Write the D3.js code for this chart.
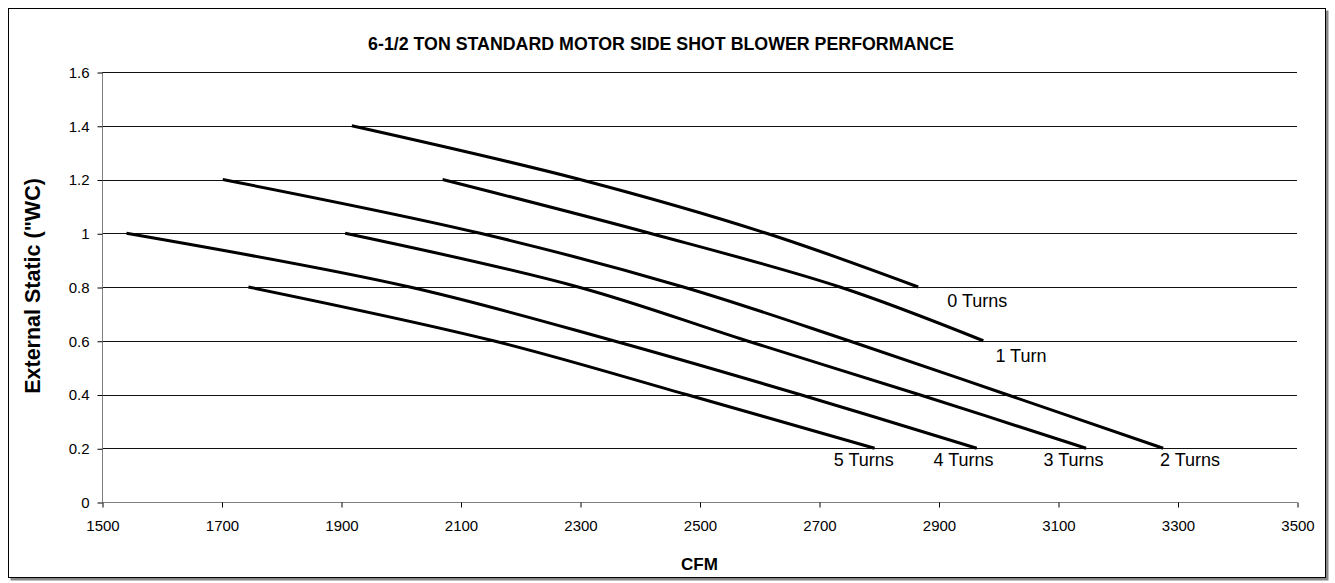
<!DOCTYPE html>
<html>
<head>
<meta charset="utf-8">
<script src="https://cdn.jsdelivr.net/npm/d3@7"></script>
<style>
  html, body { margin: 0; padding: 0; background: #fff; }
  svg { display: block; font-family: "Liberation Sans", Arial, sans-serif; }
</style>
</head>
<body>
<svg id="chart" width="1335" height="583"></svg>
<script>
// Fan curves: CFM delivered at each external static pressure, per pulley setting
const seriesNames = ["0 Turns", "1 Turn", "2 Turns", "3 Turns", "4 Turns", "5 Turns"];
const turns0 = [[1918, 1.4], [2300, 1.2], [2612, 1.0], [2866, 0.8]];
const turns1 = [[2070, 1.2], [2417, 1.0], [2735, 0.8], [2975, 0.6]];
const turns2 = [[1702, 1.2], [2133, 1.0], [2473, 0.8], [2750, 0.6], [3014, 0.4], [3276, 0.2]];
const turns3 = [[1907, 1.0], [2297, 0.8], [2579, 0.6], [2867, 0.4], [3147, 0.2]];
const turns4 = [[1541, 1.0], [2015, 0.8], [2356, 0.6], [2668, 0.4], [2964, 0.2]];
const turns5 = [[1745, 0.8], [2155, 0.6], [2478, 0.4], [2793, 0.2]];
// Where each curve's name is written, in chart units (CFM, "WC)
const labelSpots = [[2965, 0.747], [3038, 0.542], [3321, 0.155], [3126, 0.155], [2942, 0.155], [2775, 0.155]];

const xTicks = [1500, 1700, 1900, 2100, 2300, 2500, 2700, 2900, 3100, 3300, 3500];
const yTicks = [0, 0.2, 0.4, 0.6, 0.8, 1, 1.2, 1.4, 1.6];

const titleText = "6-1/2 TON STANDARD MOTOR SIDE SHOT BLOWER PERFORMANCE";
const xTitle = "CFM";
const yTitle = "External Static (\"WC)";

const series = [turns0, turns1, turns2, turns3, turns4, turns5];

const svg = d3.select("#chart");
const plot = { left: 102, right: 1297, top: 72, bottom: 502 };

// chart frame with a soft shadow on the right and bottom
svg.append("rect").attr("x", 10.5).attr("y", 10.5).attr("width", 1318).attr("height", 570)
  .attr("fill", "#888");
svg.append("rect").attr("x", 8.5).attr("y", 8.5).attr("width", 1317).attr("height", 569)
  .attr("fill", "#fff").attr("stroke", "#000").attr("stroke-width", 1);

const x = d3.scaleLinear().domain([1500, 3500]).range([plot.left, plot.right]);
const y = d3.scaleLinear().domain([0, 1.6]).range([plot.bottom, plot.top]);

// horizontal gridlines
svg.append("g")
  .selectAll("line")
  .data(yTicks.filter(d => d > 0))
  .join("line")
  .attr("x1", plot.left).attr("x2", plot.right)
  .attr("y1", d => Math.round(y(d)) + 0.5).attr("y2", d => Math.round(y(d)) + 0.5)
  .attr("stroke", "#111").attr("stroke-width", 1);

// axes
const yAxis = d3.axisLeft(y).tickValues(yTicks).tickSize(5).tickPadding(8)
  .tickFormat(d => d3.format("")(Math.round(d * 10) / 10));
const xAxis = d3.axisBottom(x).tickValues(xTicks).tickSize(5).tickPadding(13).tickFormat(d3.format("d"));

const gy = svg.append("g").attr("transform", `translate(${plot.left + 0.5},0.5)`).call(yAxis);
const gx = svg.append("g").attr("transform", `translate(0.5,${plot.bottom + 0.5})`).call(xAxis);
[gx, gy].forEach(g => {
  g.select(".domain").attr("stroke", "#808080").attr("stroke-width", 1);
  g.selectAll(".tick line").attr("stroke", "#000");
  g.selectAll(".tick text").attr("fill", "#000")
    .style("font-family", "\"Liberation Sans\", Arial, sans-serif").style("font-size", "15px");
});
gy.select(".domain").attr("d", `M0,${plot.top}V${plot.bottom}`);
gx.select(".domain").attr("d", `M${plot.left},0H${plot.right}`);

// fan curves
const line = d3.line()
  .x(d => x(d[0]))
  .y(d => y(d[1]))
  .curve(d3.curveCatmullRom.alpha(0.5));

svg.append("g")
  .selectAll("path")
  .data(series)
  .join("path")
  .attr("d", line)
  .attr("fill", "none")
  .attr("stroke", "#000")
  .attr("stroke-width", 3)
  .attr("stroke-linecap", "butt");

// curve names
svg.append("g")
  .selectAll("text")
  .data(seriesNames)
  .join("text")
  .attr("x", (d, i) => x(labelSpots[i][0]))
  .attr("y", (d, i) => y(labelSpots[i][1]))
  .attr("text-anchor", "middle")
  .attr("dominant-baseline", "central")
  .style("font-size", "18px")
  .text(d => d);

// titles
svg.append("text")
  .attr("x", 661).attr("y", 50)
  .attr("text-anchor", "middle")
  .style("font-size", "17.8px").style("font-weight", "bold")
  .text(titleText);

svg.append("text")
  .attr("x", (plot.left + plot.right) / 2).attr("y", 570)
  .attr("text-anchor", "middle")
  .style("font-size", "17px").style("font-weight", "bold")
  .text(xTitle);

svg.append("text")
  .attr("transform", `translate(40,${(plot.top + plot.bottom) / 2 - 1}) rotate(-90)`)
  .attr("text-anchor", "middle")
  .style("font-size", "21.5px").style("font-weight", "bold")
  .text(yTitle);
</script>
</body>
</html>
